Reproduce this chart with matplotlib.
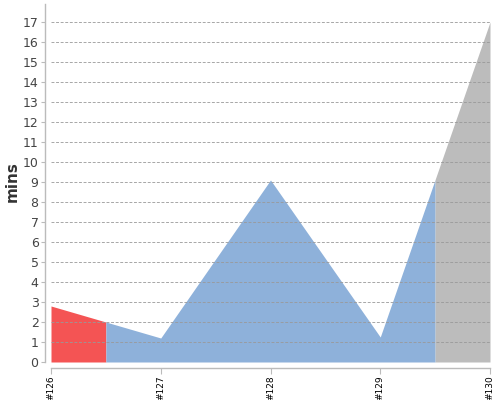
import matplotlib
matplotlib.use("Agg")
import matplotlib.pyplot as plt
import numpy as np

builds = ["#126", "#127", "#128", "#129", "#130"]
durations = [2.8, 1.2, 9.1, 1.25, 17.0]
statuses = ["failed", "success", "success", "success", "aborted"]
status_colors = {"failed": "#F45454", "success": "#8EB1DA", "aborted": "#BCBCBC"}
yticks = list(range(0, 18))

fig = plt.figure(figsize=(5, 4), dpi=100)
ax = fig.add_axes([51/500, 38/400, 439/500, 358/400])

x = np.arange(len(builds))
# group consecutive builds with same status
groups = []
for i, st in enumerate(statuses):
    if groups and groups[-1][0] == st:
        groups[-1][2] = i
    else:
        groups.append([st, i, i])
for st, a, b in groups:
    lo = max(a - 0.5, 0)
    hi = min(b + 0.5, len(builds) - 1)
    xs = np.array([lo] + [v for v in x if lo < v < hi] + [hi], dtype=float)
    ys = np.interp(xs, x, durations)
    ax.fill_between(xs, 0, ys, color=status_colors[st], linewidth=0, zorder=1,
                    antialiased=True)

ax.set_xlim(0, len(builds) - 1)
ax.set_ylim(0, 17.9)
ax.set_yticks(yticks)
ax.set_xticks(x)
ax.set_xticklabels(builds)
ax.tick_params(axis="x", labelrotation=90, labelsize=6.5, labelcolor="#000000",
               length=4, width=0.8, color="#BBBBBB", pad=1.5)
ax.tick_params(axis="y", labelsize=9, labelcolor="#444444", length=3, width=0.8,
               color="#BBBBBB", pad=2)
ax.yaxis.grid(True, linestyle=(0, (3.5, 2)), color="#999999", linewidth=0.6, zorder=3)
ax.set_axisbelow(False)
for s in ["top", "right"]:
    ax.spines[s].set_visible(False)
for s in ["left", "bottom"]:
    ax.spines[s].set_position(("outward", 4))
    ax.spines[s].set_color("#BBBBBB")
    ax.spines[s].set_linewidth(1)
ax.set_ylabel("mins", fontsize=11, fontweight="bold", color="#333333")
ax.yaxis.set_label_coords(-0.072, 0.503)

fig.savefig("out.png", dpi=100)
